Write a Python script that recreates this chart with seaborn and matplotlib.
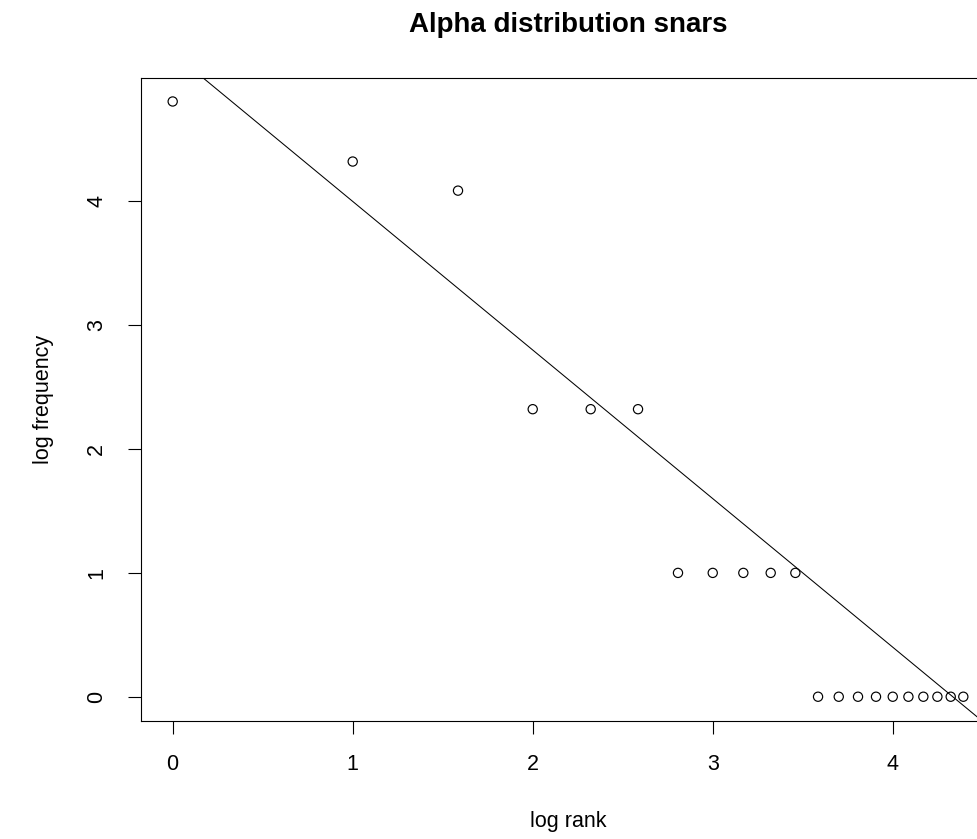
import matplotlib
matplotlib.use("Agg")
import matplotlib.pyplot as plt
import seaborn as sns
import pandas as pd

# ---- data ----
log_rank = [0.0, 1.0, 1.585, 2.0, 2.322, 2.585, 2.807, 3.0, 3.17, 3.322, 3.459,
            3.585, 3.7, 3.807, 3.907, 4.0, 4.087, 4.17, 4.248, 4.322, 4.392]
log_freq = [4.807, 4.322, 4.087, 2.322, 2.322, 2.322, 1.0, 1.0, 1.0, 1.0, 1.0,
            0.0, 0.0, 0.0, 0.0, 0.0, 0.0, 0.0, 0.0, 0.0, 0.0]
fit_intercept = 5.2
fit_slope = -1.2
x_ticks = [0, 1, 2, 3, 4]
y_ticks = [0, 1, 2, 3, 4]
title = "Alpha distribution snars"
x_label = "log rank"
y_label = "log frequency"

df = pd.DataFrame({"log rank": log_rank, "log frequency": log_freq})

sns.set_style("white")
plt.rcParams["font.family"] = ["Liberation Sans", "DejaVu Sans"]

W, H = 977, 839
fig = plt.figure(figsize=(W / 100, H / 100), dpi=100)
left, right, top, bottom = 141, 995, 77.7, 720.5
ax = fig.add_axes([left / W, (H - bottom) / H, (right - left) / W, (bottom - top) / H])

sns.scatterplot(data=df, x="log rank", y="log frequency", ax=ax, marker="o",
                s=44, facecolor="none", edgecolor="black", linewidth=0.85,
                clip_on=False)
ax.axline((0, fit_intercept), slope=fit_slope, color="black", linewidth=0.75)

ax.set_xlim(-0.176, 4.568)
ax.set_ylim(-0.192, 4.999)
ax.set_xticks(x_ticks)
ax.set_yticks(y_ticks)
ax.set_xticklabels([str(t) for t in x_ticks])
ax.set_yticklabels([str(t) for t in y_ticks], rotation=90, va="center")

for sp in ax.spines.values():
    sp.set_color("black")
    sp.set_linewidth(0.8)
    sp.set_visible(True)

ax.tick_params(axis="both", which="both", direction="out", length=9.4, width=0.8,
               color="black", labelsize=15.5, labelcolor="black", pad=15,
               bottom=True, left=True, top=False, right=False)

ax.set_xlabel(x_label, fontsize=15.5, color="black", va="center")
ax.set_ylabel(y_label, fontsize=15.5, color="black", va="center")
ax.xaxis.set_label_coords((568 - left) / (right - left), (bottom - 822) / (bottom - top))
ax.yaxis.set_label_coords((44 - left) / (right - left), 0.5)

ax.set_title(title, fontsize=20, fontweight="bold", color="black", pad=33)

fig.savefig("out.png", dpi=100, facecolor="white")
